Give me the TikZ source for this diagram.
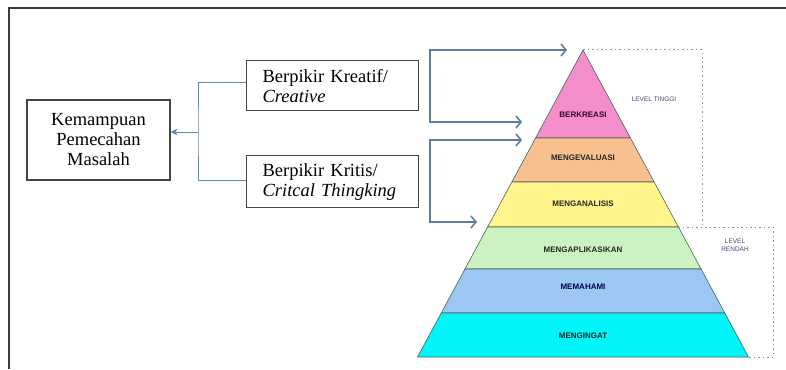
\documentclass[tikz,border=0pt]{standalone}
\usepackage{fontspec}
\setmainfont{Liberation Serif}
\setsansfont{Liberation Sans}
\usetikzlibrary{arrows.meta, positioning, calc}
\definecolor{framegray}{RGB}{60,60,60}
\definecolor{boxgray}{RGB}{70,70,70}
\definecolor{linkblue}{RGB}{95,135,180}
\definecolor{arrblue}{RGB}{90,125,160}
\definecolor{dotgray}{RGB}{140,140,155}
\definecolor{sepline}{RGB}{70,100,90}
\definecolor{lvlblue}{RGB}{70,70,130}
\definecolor{lpink}{RGB}{244,142,202}
\definecolor{lpeach}{RGB}{248,192,142}
\definecolor{lyellow}{RGB}{255,245,138}
\definecolor{lgreen}{RGB}{205,242,194}
\definecolor{lblue}{RGB}{156,199,242}
\definecolor{lcyan}{RGB}{0,244,248}
\tikzset{
  txtbox/.style={rectangle, draw=boxgray, line width=1.2pt,
    font=\fontsize{18.5}{20}\selectfont, inner sep=0pt},
  layertxt/.style={font=\fontsize{8}{8}\sffamily\bfseries},
  lvltxt/.style={font=\fontsize{6.5}{8}\sffamily, text=lvlblue, align=center},
  bracket/.style={draw=linkblue, line width=1pt},
  leftarrow/.style={-{Stealth[length=7pt, width=7pt]}, draw=linkblue, line width=1pt},
  bigarrow/.style={{Straight Barb[length=5pt, width=12pt]}-{Straight Barb[length=5pt, width=12pt]},
    draw=arrblue, line width=1.6pt},
  dashbox/.style={draw=dotgray, line width=1pt, dash pattern=on 1.5pt off 3pt}
}
\begin{document}
\begin{tikzpicture}[x=1pt, y=-1pt]
  \useasboundingbox (0,0) rectangle (786,369);
  % Frame
  \draw[framegray, line width=1.5pt] (9,369) -- (9,8) -- (786,8);

  % Boxes
  \node[txtbox, minimum width=143pt, minimum height=80pt, align=center] (kemampuan)
    at (98.5,140) {Kemampuan\\Pemecahan\\Masalah};
  \node[txtbox, minimum width=172pt, minimum height=50pt, text width=142pt, align=left,
    anchor=north west] (kreatif) at (246,60) {\hspace*{1pt}Berpikir Kreatif/\\\hspace*{1pt}\textit{Creative}};
  \node[txtbox, minimum width=172pt, minimum height=52pt, text width=142pt, align=left,
    anchor=north west] (kritis) at (246,155) {\hspace*{1pt}Berpikir Kritis/\\\hspace*{1pt}\textit{Critcal Thingking}};

  % Left fork
  \coordinate (fork) at (198,132);
  \draw[bracket] (kreatif.west |- 0,82) -| (fork) |- (kritis.west |- 0,180);
  \draw[leftarrow] (fork) -- (fork -| kemampuan.east);

  % Pyramid
  \foreach \ya/\yb/\col/\lab/\ly/\tc [count=\i] in {
      50/138/lpink/BERKREASI/115/black!60!violet,
      138/182/lpeach/MENGEVALUASI/158/black!85,
      182/227/lyellow/MENGANALISIS/204/black!85,
      227/269/lgreen/MENGAPLIKASIKAN/250/black!85,
      269/313/lblue/MEMAHAMI/287/black!70!blue,
      313/357/lcyan/MENGINGAT/336/black!70!teal} {
    \pgfmathsetmacro\wa{0.539*(\ya-50)}
    \pgfmathsetmacro\wb{0.539*(\yb-50)}
    \filldraw[fill=\col, draw=sepline, line width=0.6pt]
      (583-\wa,\ya) -- (583+\wa,\ya) -- (583+\wb,\yb) -- (583-\wb,\yb) -- cycle;
    \node[layertxt, text=\tc] (lay\i) at (583,\ly) {\lab};
  }

  % Level frames
  \draw[dashbox] (583,50) -| (702,227);
  \draw[dashbox] (678,227) -| (773,357) -- (748,357);
  \node[lvltxt] (tinggi) at (654,99) {LEVEL TINGGI};
  \node[lvltxt] (rendah) at (735,245) {LEVEL\\RENDAH};

  % Arrows to pyramid
  \coordinate (toapex) at (567,50);
  \coordinate (tocreate) at (522,122);
  \coordinate (toeval) at (522,140);
  \coordinate (toanalyse) at (477,222);
  \draw[bigarrow] (toapex) -| (430,86) |- (tocreate);
  \draw[bigarrow] (toeval) -| (430,180) |- (toanalyse);
\end{tikzpicture}
\end{document}
